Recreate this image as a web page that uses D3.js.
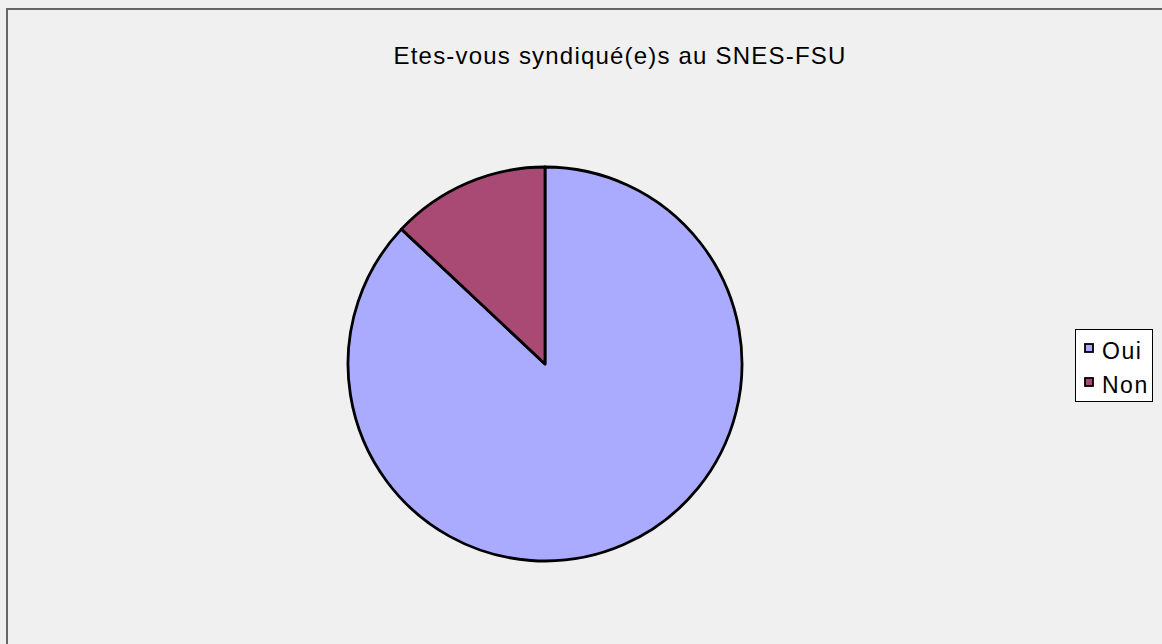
<!DOCTYPE html>
<html><head><meta charset="utf-8">
<script src="https://cdn.jsdelivr.net/npm/d3@7"></script>
<style>body{margin:0;background:#fff}svg{display:block}</style>
</head><body>
<svg id="c" width="1162" height="644"></svg>
<script>
const categories = ["Oui", "Non"];
const values = [87, 13];
const colors = ["#aaaaff", "#a94a75"];
const title = "Etes-vous syndiqué(e)s au SNES-FSU";

const svg = d3.select("#c");
svg.append("rect").attr("x",0).attr("y",0).attr("width",1162).attr("height",644).attr("fill","#f0f0f0");
svg.append("path").attr("d","M7,644 V9 H1162").attr("fill","none").attr("stroke","#666").attr("stroke-width",2);

svg.append("text").attr("x",620).attr("y",64).attr("text-anchor","middle")
  .attr("font-family","Liberation Sans, Arial, sans-serif").attr("font-size",24)
  .attr("letter-spacing",1.2).attr("fill","#000").text(title);

const cx = 545, cy = 364, r = 197;
const data = categories.map((c,i)=>({cat:c, v:values[i], col:colors[i]}));
const pie = d3.pie().value(d=>d.v).sort(null).startAngle(0).endAngle(2*Math.PI);
const arc = d3.arc().innerRadius(0).outerRadius(r);
svg.append("g").attr("transform",`translate(${cx},${cy})`)
  .selectAll("path").data(pie(data)).join("path")
  .attr("d",arc).attr("fill",d=>d.data.col).attr("stroke","#000").attr("stroke-width",2.8).attr("stroke-linejoin","round");

const lg = svg.append("g");
lg.append("rect").attr("x",1075.5).attr("y",329.5).attr("width",77).attr("height",72).attr("fill","#fff").attr("stroke","#000").attr("stroke-width",1);
const ly = d3.scalePoint().domain(categories).range([359, 393]);
categories.forEach((c,i)=>{
  lg.append("rect").attr("x",1085).attr("y",ly(c)-15).attr("width",8).attr("height",8)
    .attr("fill",colors[i]).attr("stroke","#000").attr("stroke-width",1.8);
  lg.append("text").attr("x",1102).attr("y",ly(c)).attr("font-family","Liberation Sans, Arial, sans-serif")
    .attr("font-size",23).attr("letter-spacing",1.5).attr("fill","#000").text(c);
});
</script>
</body></html>
